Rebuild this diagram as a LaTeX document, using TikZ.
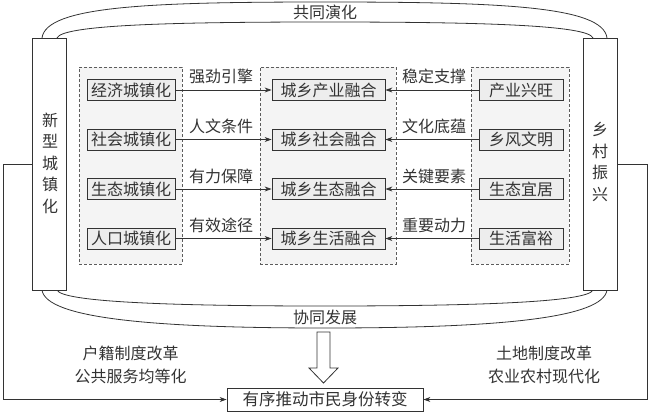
\documentclass[tikz,border=0pt]{standalone}
\usepackage{fontspec}
\setmainfont{Noto Sans CJK SC}
\usetikzlibrary{arrows.meta}
\definecolor{ln}{HTML}{333333}
\definecolor{grpfill}{HTML}{F4F4F4}
\definecolor{boxfill}{HTML}{EDEDED}
\tikzset{
  txt/.style={font=\fontsize{16}{18}\selectfont, text=ln, inner sep=0pt},
  grp/.style={draw=ln!80, dashed, dash pattern=on 3pt off 2pt, fill=grpfill, line width=0.7pt, inner sep=0pt},
  sbox/.style={txt, draw=ln, fill=boxfill, line width=0.8pt, minimum height=21pt},
  bigbox/.style={draw=ln, fill=white, line width=0.8pt, minimum width=34pt, minimum height=252pt, inner sep=0pt},
  conn/.style={draw=ln, line width=0.8pt, -{Stealth[length=7pt,width=5pt]}},
  arcline/.style={draw=ln, line width=0.8pt},
  vtxt/.style={txt, font=\fontsize{16}{21.5}\selectfont, align=center},
}
\begin{document}
\begin{tikzpicture}[x=1pt,y=-1pt]
\useasboundingbox (0,0) rectangle (650,413);
% arcs
\draw[arcline] (42,38) .. controls (46,6) and (150,2) .. (325,2) .. controls (500,2) and (603,6) .. (607,38);
\draw[arcline] (57,38) .. controls (62,25) and (170,22) .. (325,22) .. controls (480,22) and (588,25) .. (593,38);
\draw[arcline] (42,290) .. controls (46,318) and (150,328) .. (325,328) .. controls (500,328) and (603,318) .. (607,290);
\draw[arcline] (57,290) .. controls (62,302) and (170,306) .. (325,306) .. controls (480,306) and (588,302) .. (593,290);
\node[txt] (gtyh) at (325,12) {共同演化};
\node[txt] (xtfz) at (325,317) {协同发展};
% big side boxes
\node[bigbox] (Lbig) at (49.5,164) {};
\node[bigbox] (Rbig) at (600,164) {};
\node[vtxt] (Ltxt) at (50,163) {新\\型\\城\\镇\\化};
\node[vtxt] (Rtxt) at (600,162) {乡\\村\\振\\兴};
% groups
\node[grp, minimum width=103pt, minimum height=197pt] (G1) at (130.5,165.5) {};
\node[grp, minimum width=136pt, minimum height=197pt] (G2) at (328,165.5) {};
\node[grp, minimum width=98pt, minimum height=197pt] (G3) at (520,165.5) {};
% left boxes
\node[sbox, minimum width=88pt] (a1) at (131,90) {经济城镇化};
\node[sbox, minimum width=88pt] (a2) at (131,139.5) {社会城镇化};
\node[sbox, minimum width=88pt] (a3) at (131,189) {生态城镇化};
\node[sbox, minimum width=88pt] (a4) at (131,238.5) {人口城镇化};
% middle boxes
\node[sbox, minimum width=113pt] (b1) at (328.5,90) {城乡产业融合};
\node[sbox, minimum width=113pt] (b2) at (328.5,139.5) {城乡社会融合};
\node[sbox, minimum width=113pt] (b3) at (328.5,189) {城乡生态融合};
\node[sbox, minimum width=113pt] (b4) at (328.5,238.5) {城乡生活融合};
% right boxes
\node[sbox, minimum width=84pt] (c1) at (521,90) {产业兴旺};
\node[sbox, minimum width=84pt] (c2) at (521,139.5) {乡风文明};
\node[sbox, minimum width=84pt] (c3) at (521,189) {生态宜居};
\node[sbox, minimum width=84pt] (c4) at (521,238.5) {生活富裕};
% arrows
\draw[conn] (a1) -- (b1);
\draw[conn] (a2) -- (b2);
\draw[conn] (a3) -- (b3);
\draw[conn] (a4) -- (b4);
\draw[conn] (c1) -- (b1);
\draw[conn] (c2) -- (b2);
\draw[conn] (c3) -- (b3);
\draw[conn] (c4) -- (b4);
% labels
\node[txt] (la1) at (221,76) {强劲引擎};
\node[txt] (la2) at (221,126) {人文条件};
\node[txt] (la3) at (221,176) {有力保障};
\node[txt] (la4) at (221,225) {有效途径};
\node[txt] (lc1) at (434,76) {稳定支撑};
\node[txt] (lc2) at (434,126) {文化底蕴};
\node[txt] (lc3) at (434,176) {关键要素};
\node[txt] (lc4) at (434,225) {重要动力};
% block arrow
\draw[draw=ln, fill=white, line width=0.8pt] (317,332) -- (330,332) -- (330,368) -- (338,368) -- (323.5,383) -- (309,368) -- (317,368) -- cycle;
% final box
\node[txt, font=\fontsize{16.5}{18}\selectfont, draw=ln, fill=white, line width=0.8pt, minimum width=196pt, minimum height=23pt] (fin) at (325,399.5) {有序推动市民身份转变};
% side texts
\node[txt, align=center, font=\fontsize{16}{23.5}\selectfont] (lt) at (130.5,365) {户籍制度改革\\公共服务均等化};
\node[txt, align=center, font=\fontsize{16}{23.5}\selectfont] (rt) at (544,365) {土地制度改革\\农业农村现代化};
% side connectors
\coordinate (lcorner) at (3,399.5);
\coordinate (rcorner) at (647,399.5);
\draw[conn] (Lbig.west) -| (lcorner) -- (fin.west);
\draw[conn] (Rbig.east) -| (rcorner) -- (fin.east);
\end{tikzpicture}
\end{document}
